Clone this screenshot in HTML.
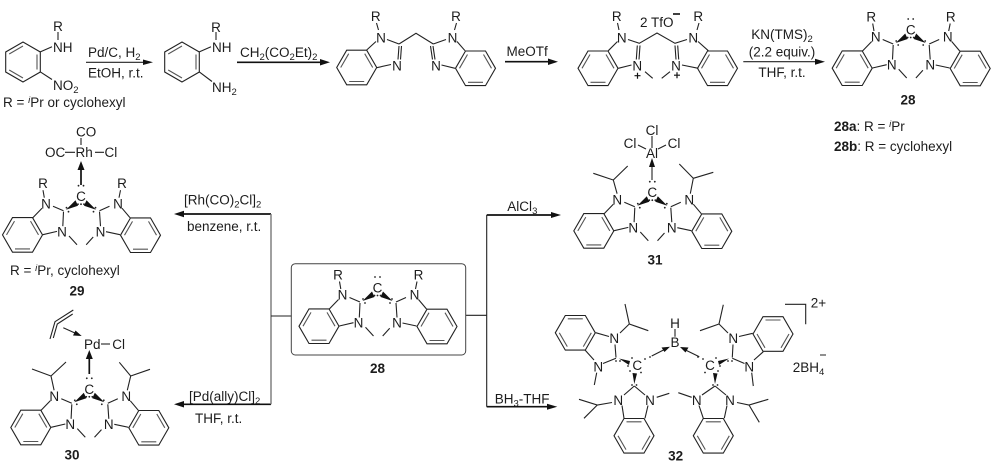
<!DOCTYPE html>
<html><head><meta charset="utf-8"><style>
html,body{margin:0;padding:0;background:#fff}
svg{display:block}
text{font-family:"Liberation Sans",sans-serif;font-size:13.5px;fill:#1c1c1c}
.a{font-size:13.5px;text-anchor:middle}
.b{font-weight:bold;text-anchor:middle;font-size:13.5px}
.m{text-anchor:middle}
.s{font-size:9.5px}
.l{stroke:#222;stroke-width:1.1;fill:none}
.t{stroke:#111;stroke-width:1.7;fill:none}
</style></head><body>
<svg width="999" height="474" viewBox="0 0 999 474" xmlns="http://www.w3.org/2000/svg">
<defs>
<g id="hz" class="l"><polygon points="-20,0 -10,-17.3 10,-17.3 20,0 10,17.3 -10,17.3"/><path d="M-16,0L-8,-13.8M16,0L8,-13.8M-7.5,14H7.5" stroke="#555"/></g>
<g id="hr" class="l"><polygon points="-20,0 -10,-17.3 10,-17.3 20,0 10,17.3 -10,17.3"/><path d="M-16,0L-8,13.8M16,0L8,13.8M-7.5,-14H7.5" stroke="#555"/></g>
<g id="dots" fill="#222"><circle cx="-2.5" cy="-11" r=".9"/><circle cx="2.5" cy="-11" r=".9"/><circle cx="-3" cy="7.5" r=".9"/><circle cx="0" cy="7.5" r=".9"/><circle cx="3" cy="7.5" r=".9"/><circle cx="-14.5" cy="11" r=".9"/><circle cx="-12.5" cy="15" r=".9"/><circle cx="14.5" cy="11" r=".9"/><circle cx="12.5" cy="15" r=".9"/></g>
<g id="carb">
<use href="#hz" x="-58.5" y="38.2"/><use href="#hz" x="59.5" y="38.5"/>
<path class="l" d="M-48.2,21L-39,11.5M-28,9.5L-17.5,14M-17.5,15L-18.2,29.5M-38.2,38L-24,34.7M-12,39.3L-4,48M49,21L41,11.5M28.5,9.5L18.5,14M18.5,15L19.5,29.5M39,38L25,35M12.2,40.3L5.2,48"/>
<polygon points="-15,13 -5.5,3.5 -3,9" fill="#111"/><polygon points="15,13 5.5,3.5 3,9" fill="#111"/>
<use href="#dots"/>
</g>
</defs>

<!-- top row: aniline 1 -->
<use href="#hz" transform="translate(23,62) rotate(-90)"/>
<path class="l" d="M40,52L52,46.7M40,71.7L52,79.5M58,32V40"/>
<text x="58" y="31" class="a">R</text>
<text x="53" y="52">NH</text>
<text x="53" y="90">NO<tspan class="s" dy="3">2</tspan></text>
<text x="3" y="107">R = <tspan class="s" font-style="italic" dy="-4">i</tspan><tspan dy="4">Pr or cyclohexyl</tspan></text>
<text x="88" y="57">Pd/C, H<tspan class="s" dy="3">2</tspan></text>
<text x="88" y="77.5">EtOH, r.t.</text>
<path class="l" d="M86,62.3H146"/><polygon points="153,62.3 143,59.5 143,65" fill="#111"/>

<!-- aniline 2 -->
<use href="#hz" transform="translate(182,62) rotate(-90)"/>
<path class="l" d="M199,52L211,46.7M199,71.7L212,81.5M216,32V40"/>
<text x="216" y="32" class="a">R</text>
<text x="212" y="52">NH</text>
<text x="212" y="92">NH<tspan class="s" dy="3">2</tspan></text>
<text x="240" y="57">CH<tspan class="s" dy="3">2</tspan><tspan dy="-3">(CO</tspan><tspan class="s" dy="3">2</tspan><tspan dy="-3">Et)</tspan><tspan class="s" dy="3">2</tspan></text>
<path class="t" d="M237,62.3H322"/><polygon points="330,62.3 320,59 320,65.5" fill="#111"/>

<!-- bis benzimidazole -->
<use href="#hz" x="356.7" y="67.5"/><use href="#hz" transform="translate(475.5,68.3)"/>
<path class="l" d="M366.7,50L376,41.5M387,39.5L399,44M399,44L416,33.3L433.3,44M399,46L398,59.5M401.5,46L400.5,59.5M376.7,67.7L391,64.5M465,50.7L457,41.5M446,39.5L433.3,44M433,46L435,59.5M430.5,46L432.5,59.5M455,68.3L441.5,65M376.5,23L378.5,30M456.5,23L454.5,30"/>
<text x="375.7" y="21" class="a">R</text><text x="456" y="21" class="a">R</text>
<text x="381" y="42.5" class="a">N</text><text x="397" y="70.5" class="a">N</text>
<text x="452.5" y="42.5" class="a">N</text><text x="436" y="70.5" class="a">N</text>
<text x="506.5" y="56">MeOTf</text>
<path class="t" d="M505,61.7H550"/><polygon points="558,61.7 548,58.5 548,65" fill="#111"/>

<!-- salt -->
<use href="#hz" x="598" y="68.3"/><use href="#hz" x="717.5" y="68.3"/>
<path class="l" d="M608.3,50.7L617.5,41.5M628,39.5L639.3,43.3L657,33L675,43.3L687,39.5M640,45.5L639,59.5M637.3,45.5L636.3,59.5M618.3,68.3L631.5,65M708.3,50.7L698,41.5M675,45.5L676,59.5M677.7,45.5L678.7,59.5M698.3,68.3L682,65M645,71.7L652.7,78.3M670,71.7L661.7,78.3M617.5,23L619,30M699,23L697,30"/>
<text x="616.7" y="21" class="a">R</text><text x="698.3" y="21" class="a">R</text>
<text x="621.7" y="42.5" class="a">N</text><text x="637.3" y="70.5" class="a">N</text>
<text x="693.3" y="42.5" class="a">N</text><text x="676" y="70.5" class="a">N</text>
<text x="640" y="27">2 TfO</text>
<path d="M673,14H680" stroke="#111" stroke-width="1.6"/>
<path d="M634.5,75.7H640.5M637.5,72.7V78.7M674,75.2H680M677,72.2V78.2" stroke="#111" stroke-width="1.2"/>
<text x="782" y="39" class="m">KN(TMS)<tspan class="s" dy="3">2</tspan></text>
<text x="782" y="56.5" class="m">(2.2 equiv.)</text>
<text x="782" y="77" class="m">THF, r.t.</text>
<path class="l" d="M743.3,61.7H817"/><polygon points="825,61.7 815,58.7 815,64.7" fill="#111"/>

<!-- 28 top right -->
<g transform="translate(910.7,30)">
<use href="#carb"/>
<path class="l" d="M-38,-6.5L-36.7,1M39.5,-6.5L38,1"/>
<text x="-39.5" y="-8.5" class="a">R</text><text x="40" y="-8.5" class="a">R</text>
<text y="4.5" class="a">C</text>
<text x="-35" y="11.7" class="a">N</text><text x="-19" y="39.7" class="a">N</text><text x="37" y="11.7" class="a">N</text><text x="19.5" y="39.7" class="a">N</text>
</g>
<text x="908" y="104.5" class="b">28</text>
<text x="834" y="131"><tspan font-weight="bold">28a</tspan>: R = <tspan class="s" font-style="italic" dy="-4">i</tspan><tspan dy="4">Pr</tspan></text>
<text x="834" y="151"><tspan font-weight="bold">28b</tspan>: R = cyclohexyl</text>

<!-- 29 -->
<text x="76" y="136.5">CO</text>
<text x="45" y="157">OC</text><text x="75.5" y="157">Rh</text><text x="104.5" y="157">Cl</text>
<path class="l" d="M65,152.3H75M95,152.3H104M81,138V145"/>
<path class="t" d="M81,185V168"/><polygon points="81,161 77.5,170 84.5,170" fill="#111"/>
<g transform="translate(81,196.7)">
<use href="#carb"/>
<path class="l" d="M-38,-6.5L-36.7,1M39.5,-6.5L38,1"/>
<text x="-38" y="-8.5" class="a">R</text><text x="41" y="-8.5" class="a">R</text>
<text y="4.5" class="a">C</text>
<text x="-35" y="11.7" class="a">N</text><text x="-19" y="39.7" class="a">N</text><text x="37" y="11.7" class="a">N</text><text x="19.5" y="39.7" class="a">N</text>
</g>
<text x="10" y="275">R = <tspan class="s" font-style="italic" dy="-4">i</tspan><tspan dy="4">Pr, cyclohexyl</tspan></text>
<text x="77" y="295.5" class="b">29</text>

<!-- 30 -->
<path class="l" d="M50,339L55,321.7L73.3,310M53.3,338L57.3,324L72.7,314M63.3,327.7L76,333.5"/>
<polygon points="81.7,336 73,335.5 75.5,330.5" fill="#111"/>
<text x="84" y="349">Pd</text><text x="112.3" y="349">Cl</text>
<path class="l" d="M101,344H110"/>
<path class="t" d="M89.3,374V357"/><polygon points="89.3,350 85.8,359 92.8,359" fill="#111"/>
<g transform="translate(89.3,389.3)">
<use href="#carb"/>
<path class="l" d="M-35.2,1L-38.3,-13.3L-57.3,-20.3M-38.3,-13.3L-23.3,-27.3M38,1L41.4,-13.3L30,-27M41.4,-13.3L60.7,-20"/>
<text y="4.5" class="a">C</text>
<text x="-35" y="11.7" class="a">N</text><text x="-19" y="39.7" class="a">N</text><text x="37" y="11.7" class="a">N</text><text x="19.5" y="39.7" class="a">N</text>
</g>
<text x="72" y="459.5" class="b">30</text>

<!-- connectors -->
<path class="t" d="M182,214H271"/><polygon points="174,214 184,210.8 184,217.2" fill="#111"/>
<path class="t" d="M182,404.3H271"/><polygon points="174,404.3 184,401 184,407.5" fill="#111"/>
<path d="M271,214V404.3" stroke="#777" stroke-width="1.4" fill="none"/>
<path class="l" d="M271,316H291.6M465.7,315.3H486.7"/>
<path d="M486.7,215V406.7" stroke="#222" stroke-width="1.1" fill="none"/>
<path class="t" d="M486.7,215H553"/><polygon points="561,215 551,212 551,218" fill="#111"/>
<path class="t" d="M486.7,406.7H549"/><polygon points="557.3,406.7 547,403.7 547,409.7" fill="#111"/>
<text x="184" y="204.5">[Rh(CO)<tspan class="s" dy="3">2</tspan><tspan dy="-3">Cl]</tspan><tspan class="s" dy="3">2</tspan></text>
<text x="187" y="231">benzene, r.t.</text>
<text x="189" y="401">[Pd(ally)Cl]<tspan class="s" dy="3">2</tspan></text>
<text x="195" y="423">THF, r.t.</text>
<text x="507.3" y="211">AlCl<tspan class="s" dy="3">3</tspan></text>
<text x="494.7" y="403.5">BH<tspan class="s" dy="3">3</tspan><tspan dy="-3">-THF</tspan></text>

<!-- central 28 -->
<rect x="291.3" y="263.7" width="174.4" height="91.3" rx="4" fill="none" stroke="#444" stroke-width="1"/>
<g transform="translate(377.5,288)">
<use href="#carb"/>
<path class="l" d="M-38,-6.5L-36.7,1M39.5,-6.5L38,1"/>
<text x="-39.5" y="-8.5" class="a">R</text><text x="41" y="-8.5" class="a">R</text>
<text y="4.5" class="a">C</text>
<text x="-35" y="11.7" class="a">N</text><text x="-19" y="39.7" class="a">N</text><text x="37" y="11.7" class="a">N</text><text x="19.5" y="39.7" class="a">N</text>
</g>
<text x="377.5" y="373" class="b">28</text>

<!-- 31 -->
<text x="652" y="135" class="a">Cl</text>
<text x="630" y="148" class="a">Cl</text><text x="674" y="148" class="a">Cl</text>
<text x="652" y="158" class="a">Al</text>
<path class="l" d="M638,145L646,149M666,145L658,149M652,136V148"/>
<path class="l" d="M652,180V164"/><polygon points="652,158 649,167 655,167" fill="#111"/>
<g transform="translate(652.3,192.7)">
<use href="#carb"/>
<path class="l" d="M-35.2,1L-39,-12.7L-59,-19.4M-39,-12.7L-24.6,-26.7M38,1L41,-14.4L27,-28.7M41,-14.4L61,-20.4"/>
<text y="4.5" class="a">C</text>
<text x="-35" y="11.7" class="a">N</text><text x="-19" y="39.7" class="a">N</text><text x="37" y="11.7" class="a">N</text><text x="19.5" y="39.7" class="a">N</text>
</g>
<text x="655" y="264.5" class="b">31</text>

<!-- 32 -->
<use href="#hr" x="575.3" y="332.8"/><use href="#hr" x="773" y="334"/>
<use href="#hr" transform="translate(634,435.8)"/><use href="#hr" transform="translate(713.3,435.8)"/>
<path class="l" d="M595.7,332.7L609,336.5M585,350L594,360M615,344.5L616,357.5M616,358.3L603,363.5M620,333L629.3,324L625,304M629.3,324L648.3,330.7M596.7,372.7L594.3,385
M752.7,333.3L739,336.5M763.3,351.7L754,360M733,344.5L732.3,357.5M732.3,358.3L744.5,363.5M728,333L719,324L723.3,304.7M719,324L700,330.7M751.7,372.7L753.3,386
M634.3,386L624,395M634.3,386L645,395M622,405.5L624,418.3M648,405.5L645,418.3M612,402.5L597.3,405L579,399.3M597.3,405L584,418.3M656.7,397.3L669.3,393.3
M715,386L702,395M715,386L726,395M699,405.5L703.3,418.3M727,405.5L724.3,418.3M737,402.5L749,405L768.3,399.3M749,405L759.3,422.3M691.7,397.3L678.3,392.7
M675,329V336.7M651.7,356L664,349.7M699.3,356.7L686,350.3
M785,304.3H805.7V324.3"/>
<polygon points="670,346.7 661.5,347.5 664.5,352" fill="#111"/><polygon points="680,347 688.5,347.5 685.5,352.5" fill="#111"/>
<polygon points="619,358.5 630,361 629,365" fill="#111"/><polygon points="729,358.5 718,361 719,365" fill="#111"/>
<polygon points="634.3,384 632.5,373 637,373.5" fill="#111"/><polygon points="715,384 713,373 717.5,373.5" fill="#111"/>
<g fill="#222">
<circle cx="632" cy="358" r=".9"/><circle cx="628" cy="366" r=".9"/><circle cx="630" cy="371" r=".9"/><circle cx="641" cy="372.5" r=".9"/><circle cx="645" cy="359" r=".9"/><circle cx="650" cy="357" r=".9"/>
<circle cx="716" cy="358" r=".9"/><circle cx="720" cy="366" r=".9"/><circle cx="718" cy="371" r=".9"/><circle cx="705" cy="372.5" r=".9"/><circle cx="703" cy="359" r=".9"/><circle cx="698" cy="357" r=".9"/>
<circle cx="620" cy="361" r=".9"/><circle cx="616" cy="361" r=".9"/><circle cx="728" cy="361" r=".9"/><circle cx="732" cy="361" r=".9"/>
<circle cx="632" cy="385" r=".9"/><circle cx="636.5" cy="385" r=".9"/><circle cx="713" cy="385" r=".9"/><circle cx="717.5" cy="385" r=".9"/>
</g>
<text x="675" y="328" class="a">H</text><text x="675" y="347" class="a">B</text>
<text x="637.3" y="370.2" class="a">C</text><text x="710" y="370.2" class="a">C</text>
<text x="614.3" y="343" class="a">N</text><text x="598.3" y="371.5" class="a">N</text>
<text x="733.3" y="343" class="a">N</text><text x="749.3" y="371.5" class="a">N</text>
<text x="618.3" y="405" class="a">N</text><text x="650" y="405" class="a">N</text>
<text x="696.7" y="405" class="a">N</text><text x="730" y="405" class="a">N</text>
<text x="810.7" y="307.5">2+</text>
<text x="792.7" y="372">2BH<tspan class="s" dy="3">4</tspan></text>
<path d="M820,355H826" stroke="#222" stroke-width="1"/>
<text x="675.7" y="460.5" class="b">32</text>
</svg>
</body></html>
